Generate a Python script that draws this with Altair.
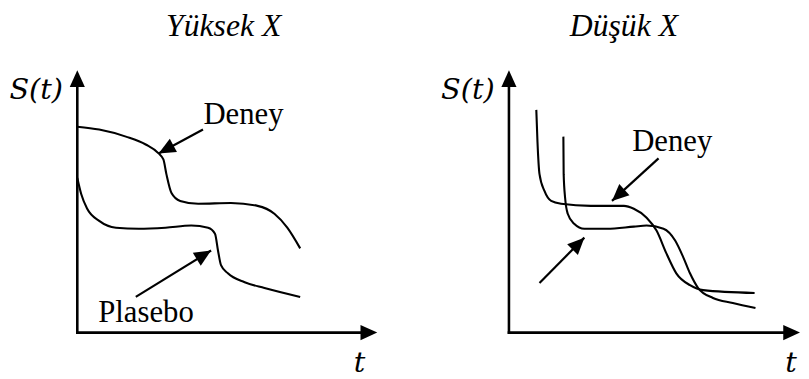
import math
import altair as alt
import pandas as pd

# ---------------- data (t, S(t) units) ----------------
# Left panel: "Yüksek X"
left_deney_t = [0, 0.73, 1.62, 2.28, 2.71, 2.87, 2.97, 3.14, 3.43, 4.03, 5.12, 6.01, 6.57, 7.00, 7.43]
left_deney_s = [0.785, 0.774, 0.747, 0.717, 0.683, 0.660, 0.604, 0.532, 0.502, 0.491, 0.494, 0.483, 0.453, 0.400, 0.321]
left_plasebo_t = [0, 0.13, 0.33, 0.73, 1.29, 2.05, 2.94, 3.80, 4.36, 4.59, 4.69, 4.79, 5.02, 5.58, 6.24, 7.43]
left_plasebo_s = [0.589, 0.528, 0.472, 0.426, 0.400, 0.396, 0.400, 0.408, 0.400, 0.377, 0.313, 0.257, 0.226, 0.192, 0.170, 0.136]

# Right panel: "Düşük X"
right_a_t = [0.94, 0.98, 1.05, 1.22, 1.45, 1.79, 2.81, 3.95, 4.29, 4.73, 5.07, 5.41, 5.75, 6.22, 6.67, 8.44]
right_a_s = [0.849, 0.728, 0.604, 0.540, 0.502, 0.491, 0.483, 0.483, 0.472, 0.438, 0.389, 0.302, 0.226, 0.181, 0.162, 0.151]
right_b_t = [1.87, 1.88, 1.93, 2.02, 2.24, 2.59, 3.37, 4.29, 4.73, 5.31, 5.71, 5.99, 6.22, 6.50, 7.01, 7.69, 8.47]
right_b_s = [0.747, 0.604, 0.513, 0.453, 0.415, 0.396, 0.396, 0.404, 0.408, 0.396, 0.351, 0.287, 0.226, 0.170, 0.132, 0.113, 0.094]

# axis extents (arrow tips)
axis_t_max = [10.0, 10.0]
axis_s_max = [1.0, 1.0]

# annotation arrows: start (t, S) -> tip (t, S)
left_arrows_t0 = [4.19, 1.95]
left_arrows_s0 = [0.774, 0.136]
left_arrows_t1 = [2.71, 4.46]
left_arrows_s1 = [0.683, 0.313]
right_arrows_t0 = [5.14, 1.05]
right_arrows_s0 = [0.664, 0.189]
right_arrows_t1 = [3.54, 2.59]
right_arrows_s1 = [0.502, 0.362]

# texts
titles = ["Yüksek X", "Düşük X"]
title_t = [4.88, 3.95]
title_s = [1.132, 1.132]
ylab_t = [-1.37, -1.41]
ylab_s = [0.891, 0.891]
xlab_t = [9.41, 9.69]
xlab_s = [-0.151, -0.151]
left_labels = ["Deney", "Plasebo"]
left_labels_t = [5.54, 2.29]
left_labels_s = [0.796, 0.0415]
right_labels = ["Deney"]
right_labels_t = [5.61]
right_labels_s = [0.691]

# ---------------- layout ----------------
H = 371
ORIGIN_Y = 325          # px from panel top to S=0
KY = 265.0              # px per S unit
HEAD = "M0,0L-0.45,1L0.45,1Z"
HEAD_SIZE = 1150
SERIF = "Liberation Serif"


def panel(curves, arrows, labels, title, ylab, xlab, tmax, smax,
          origin_x, kx, width):
    tmin = -origin_x / kx
    tdom = [tmin, tmin + width / kx]
    smax_dom = ORIGIN_Y / KY
    sdom = [smax_dom - H / KY, smax_dom]
    xs = alt.Scale(domain=tdom, nice=False, zero=False)
    ys = alt.Scale(domain=sdom, nice=False, zero=False)

    rows = []
    for name, ts, ss in curves:
        for i, (t, s) in enumerate(zip(ts, ss)):
            rows.append({"series": name, "i": i, "t": t, "S": s})
    cdf = pd.DataFrame(rows)
    lines = alt.Chart(cdf).mark_line(
        interpolate="monotone", color="black", strokeWidth=2.1
    ).encode(
        x=alt.X("t:Q", scale=xs, axis=None),
        y=alt.Y("S:Q", scale=ys, axis=None),
        detail="series:N",
        order="i:Q",
    )

    # axes as arrows
    adf = pd.DataFrame([
        {"t": 0, "S": 0, "t2": tmax - 0.3, "S2": 0},
        {"t": 0, "S": 0, "t2": 0, "S2": smax - 0.04},
    ])
    axes = alt.Chart(adf).mark_rule(color="black", strokeWidth=2.6, strokeCap="square").encode(
        x=alt.X("t:Q", scale=xs, axis=None), y=alt.Y("S:Q", scale=ys, axis=None),
        x2="t2:Q", y2="S2:Q")

    heads = [{"t": tmax, "S": 0, "ang": 90.0}, {"t": 0, "S": smax, "ang": 0.0}]
    shafts = []
    for t0, s0, t1, s1 in arrows:
        dx = (t1 - t0) * kx
        dy = -(s1 - s0) * KY
        ang = math.degrees(math.atan2(dx, -dy)) % 360
        shafts.append({"t": t0, "S": s0, "t2": t1, "S2": s1})
        heads.append({"t": t1, "S": s1, "ang": ang})
    sdf = pd.DataFrame(shafts)
    hdf = pd.DataFrame(heads)
    shaft = alt.Chart(sdf).mark_rule(color="black", strokeWidth=2.2).encode(
        x=alt.X("t:Q", scale=xs, axis=None), y=alt.Y("S:Q", scale=ys, axis=None),
        x2="t2:Q", y2="S2:Q")
    head = alt.Chart(hdf).mark_point(
        shape=HEAD, filled=True, size=HEAD_SIZE, color="black", opacity=1, strokeWidth=0
    ).encode(
        x=alt.X("t:Q", scale=xs, axis=None), y=alt.Y("S:Q", scale=ys, axis=None),
        angle=alt.Angle("ang:Q", scale=None))

    ldf = pd.DataFrame([{"t": t, "S": s, "txt": txt} for txt, t, s in labels])
    lab = alt.Chart(ldf).mark_text(
        font=SERIF, fontSize=31, color="black", align="center", baseline="alphabetic"
    ).encode(x=alt.X("t:Q", scale=xs, axis=None), y=alt.Y("S:Q", scale=ys, axis=None), text="txt:N")

    tdf = pd.DataFrame([{"t": title[1], "S": title[2], "txt": title[0]}])
    tit = alt.Chart(tdf).mark_text(
        font=SERIF, fontSize=32, fontStyle="italic", color="black", align="center", baseline="alphabetic"
    ).encode(x=alt.X("t:Q", scale=xs, axis=None), y=alt.Y("S:Q", scale=ys, axis=None), text="txt:N")

    mdf = pd.DataFrame([
        {"t": ylab[0], "S": ylab[1], "txt": "S(t)"},
        {"t": xlab[0], "S": xlab[1], "txt": "t"},
    ])
    math_lab = alt.Chart(mdf).mark_text(
        font="DejaVu Serif", fontSize=29, fontStyle="italic", color="black", align="center", baseline="alphabetic"
    ).encode(x=alt.X("t:Q", scale=xs, axis=None), y=alt.Y("S:Q", scale=ys, axis=None), text="txt:N")

    return alt.layer(axes, lines, shaft, head, lab, tit, math_lab).properties(width=width, height=H)


left = panel(
    curves=[("Deney", left_deney_t, left_deney_s), ("Plasebo", left_plasebo_t, left_plasebo_s)],
    arrows=list(zip(left_arrows_t0, left_arrows_s0, left_arrows_t1, left_arrows_s1)),
    labels=list(zip(left_labels, left_labels_t, left_labels_s)),
    title=(titles[0], title_t[0], title_s[0]),
    ylab=(ylab_t[0], ylab_s[0]), xlab=(xlab_t[0], xlab_s[0]),
    tmax=axis_t_max[0], smax=axis_s_max[0],
    origin_x=70, kx=30.3, width=396,
)
right = panel(
    curves=[("A", right_a_t, right_a_s), ("B", right_b_t, right_b_s)],
    arrows=list(zip(right_arrows_t0, right_arrows_s0, right_arrows_t1, right_arrows_s1)),
    labels=list(zip(right_labels, right_labels_t, right_labels_s)),
    title=(titles[1], title_t[1], title_s[1]),
    ylab=(ylab_t[1], ylab_s[1]), xlab=(xlab_t[1], xlab_s[1]),
    tmax=axis_t_max[1], smax=axis_s_max[1],
    origin_x=110, kx=29.4, width=405,
)

chart = alt.hconcat(left, right, spacing=0, bounds="flush").resolve_scale(
    x="independent", y="independent"
).properties(padding=0, background="white").configure_view(strokeWidth=0)

chart.save("out.html", embed_options={"renderer": "svg", "actions": False})
